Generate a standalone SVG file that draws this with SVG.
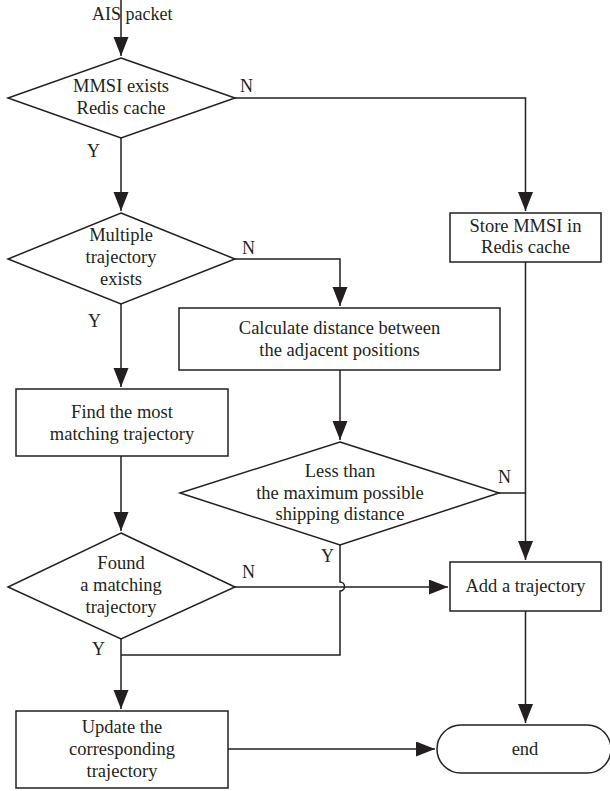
<svg xmlns="http://www.w3.org/2000/svg" width="610" height="791" viewBox="0 0 610 791">
<style>
.s{fill:#fff;stroke:#231f20;stroke-width:1.5}
.l{fill:none;stroke:#231f20;stroke-width:1.5}
.t{font-family:"Liberation Serif","Times New Roman",serif;font-size:18.5px;fill:#231f20;text-anchor:middle}
.lb{font-family:"Liberation Serif","Times New Roman",serif;font-size:18px;fill:#231f20}
</style>
<defs>
<marker id="ah" markerUnits="userSpaceOnUse" markerWidth="20" markerHeight="16" refX="19" refY="7.5" orient="auto">
<path d="M0,0 L19,7.5 L0,15 z" fill="#231f20"/>
</marker>
</defs>
<rect width="610" height="791" fill="#fff"/>
<g id="connectors">
<path class="l" d="M121,0 V56" marker-end="url(#ah)"/>
<path class="l" d="M121,138 V211" marker-end="url(#ah)"/>
<path class="l" d="M235,98 H525.5 V211" marker-end="url(#ah)"/>
<path class="l" d="M235,259 H340 V306" marker-end="url(#ah)"/>
<path class="l" d="M121,304 V387" marker-end="url(#ah)"/>
<path class="l" d="M340,370 V440" marker-end="url(#ah)"/>
<path class="l" d="M121,456 V531" marker-end="url(#ah)"/>
<path class="l" d="M525.5,262 V560" marker-end="url(#ah)"/>
<path class="l" d="M499,493 H525.5"/>
<path class="l" d="M235,587 H448" marker-end="url(#ah)"/>
<path class="l" d="M340,545 V582 A4.5,4.5 0 0 1 340,591 V655 H121"/>
<path class="l" d="M121,639 V709" marker-end="url(#ah)"/>
<path class="l" d="M525.5,611 V723" marker-end="url(#ah)"/>
<path class="l" d="M228,749 H435" marker-end="url(#ah)"/>
</g>
<g id="labels">
<text class="lb" x="92" y="20">AIS packet</text>
<text class="lb" x="240" y="92">N</text>
<text class="lb" x="87" y="157">Y</text>
<text class="lb" x="242" y="254">N</text>
<text class="lb" x="88" y="327">Y</text>
<text class="lb" x="498" y="483">N</text>
<text class="lb" x="321" y="562">Y</text>
<text class="lb" x="242" y="578">N</text>
<text class="lb" x="92" y="655">Y</text>
</g>
<g id="d1">
<polygon class="s" points="121,58 235,98 121,138 8,98"/>
<text class="t" x="121" y="92">MMSI exists</text>
<text class="t" x="121" y="114">Redis cache</text>
</g>
<g id="store">
<rect class="s" x="450" y="213" width="151" height="49"/>
<text class="t" x="525.5" y="232">Store MMSI in</text>
<text class="t" x="525.5" y="253">Redis cache</text>
</g>
<g id="d2">
<polygon class="s" points="121,213 235,259 121,304 8,259"/>
<text class="t" x="121" y="241">Multiple</text>
<text class="t" x="121" y="263">trajectory</text>
<text class="t" x="121" y="285">exists</text>
</g>
<g id="calc">
<rect class="s" x="179" y="308" width="321" height="62"/>
<text class="t" x="339.5" y="334">Calculate distance between</text>
<text class="t" x="339.5" y="356">the adjacent positions</text>
</g>
<g id="find">
<rect class="s" x="16" y="389" width="212" height="67"/>
<text class="t" x="122" y="418">Find the most</text>
<text class="t" x="122" y="440">matching trajectory</text>
</g>
<g id="d3">
<polygon class="s" points="340,442 499,493 340,545 180,493"/>
<text class="t" x="340" y="477">Less than</text>
<text class="t" x="340" y="499">the maximum possible</text>
<text class="t" x="340" y="520">shipping distance</text>
</g>
<g id="d4">
<polygon class="s" points="121,533 235,587 121,639 8,587"/>
<text class="t" x="121" y="569">Found</text>
<text class="t" x="121" y="591">a matching</text>
<text class="t" x="121" y="613">trajectory</text>
</g>
<g id="add">
<rect class="s" x="450" y="562" width="151" height="49"/>
<text class="t" x="525.5" y="592">Add a trajectory</text>
</g>
<g id="update">
<rect class="s" x="16" y="711" width="212" height="77"/>
<text class="t" x="122" y="733">Update the</text>
<text class="t" x="122" y="755">corresponding</text>
<text class="t" x="122" y="777">trajectory</text>
</g>
<g id="end">
<rect class="s" x="437" y="725" width="174" height="48" rx="24" ry="24"/>
<text class="t" x="525" y="755">end</text>
</g>
</svg>
